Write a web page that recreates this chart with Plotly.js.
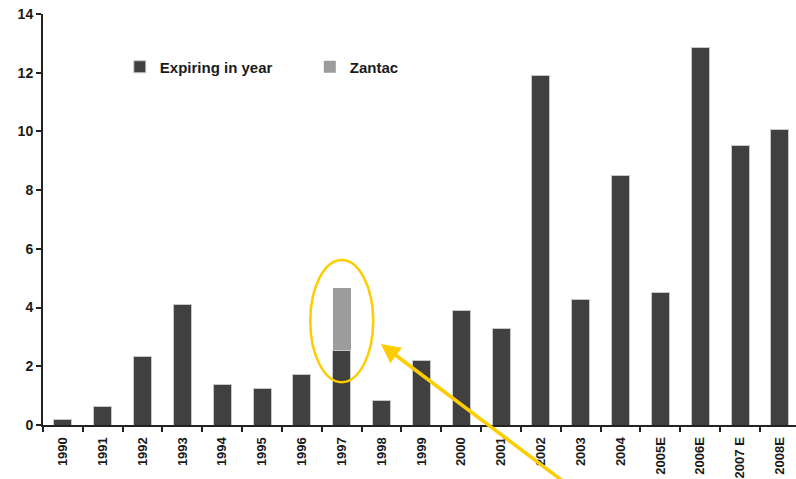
<!DOCTYPE html>
<html>
<head>
<meta charset="utf-8">
<script src="https://cdn.plot.ly/plotly-3.0.1.min.js"></script>
<style>html,body{margin:0;padding:0;background:#fff;}#chart{width:796px;height:479px;}</style>
</head>
<body>
<div id="chart"></div>
<script>
var years = ['1990','1991','1992','1993','1994','1995','1996','1997','1998','1999','2000','2001','2002','2003','2004','2005E','2006E','2007 E','2008E'];
var expiring = [0.2, 0.62, 2.33, 4.11, 1.37, 1.24, 1.71, 2.55, 0.83, 2.19, 3.91, 3.29, 11.89, 4.26, 8.49, 4.53, 12.85, 9.51, 10.07];
var zantac = [null, null, null, null, null, null, null, 2.11, null, null, null, null, null, null, null, null, null, null, null];
var yTicks = [0, 2, 4, 6, 8, 10, 12, 14];

var fontFam = 'Liberation Sans, Arial, sans-serif';
var traces = [
  {type:'bar', name:'Expiring in year', x:years, y:expiring,
   marker:{color:'#404040', line:{color:'#c8c8c8', width:1}}},
  {type:'bar', name:'Zantac', x:years, y:zantac,
   marker:{color:'#9c9c9c', line:{color:'#c8c8c8', width:0}}}
];
var layout = {
  width:796, height:479,
  margin:{l:43, r:0, t:14, b:54},
  paper_bgcolor:'#fff', plot_bgcolor:'#fff',
  barmode:'stack', bargap:0.55,
  font:{family:fontFam, size:14, color:'#1a1a1a'},
  showlegend:true,
  legend:{orientation:'h', x:0.102, y:0.871, xanchor:'left', yanchor:'middle',
          font:{family:fontFam, size:15, weight:'bold', color:'#1a1a1a'},
          bgcolor:'rgba(0,0,0,0)', entrywidth:145, entrywidthmode:'pixels', traceorder:'normal'},
  xaxis:{type:'category', range:[-0.5, 18.405], tickangle:-90, showline:true, linecolor:'#222', linewidth:2,
         ticks:'outside', tickson:'boundaries', ticklen:5, tickwidth:2, tickcolor:'#222', ticklabelstandoff:5,
         tickfont:{family:fontFam, size:13, weight:'bold', color:'#1a1a1a'}, showgrid:false, zeroline:false, fixedrange:true},
  yaxis:{range:[0,14], tickvals:yTicks, ticktext:yTicks.map(String), showline:true, linecolor:'#222', linewidth:2,
         ticks:'outside', ticklen:5, tickwidth:2, tickcolor:'#222', showgrid:false, zeroline:false,
         tickfont:{family:fontFam, size:14, weight:'bold', color:'#1a1a1a'}},
  shapes:[
    {type:'circle', xref:'x', yref:'y', x0:6.21, x1:7.79, y0:1.46, y1:5.62,
     line:{color:'#FFCC00', width:2.5}, fillcolor:'rgba(0,0,0,0)'}
  ],
  annotations:[
    {xref:'x', yref:'y', x:7.98, y:2.76, axref:'x', ayref:'y', ax:13.48, ay:-2.86, text:'',
     showarrow:true, arrowhead:2, arrowsize:1.1, arrowwidth:3.5, arrowcolor:'#FFCC00', standoff:0}
  ]
};
Plotly.newPlot('chart', traces, layout, {displayModeBar:false, staticPlot:true});
</script>
</body>
</html>
